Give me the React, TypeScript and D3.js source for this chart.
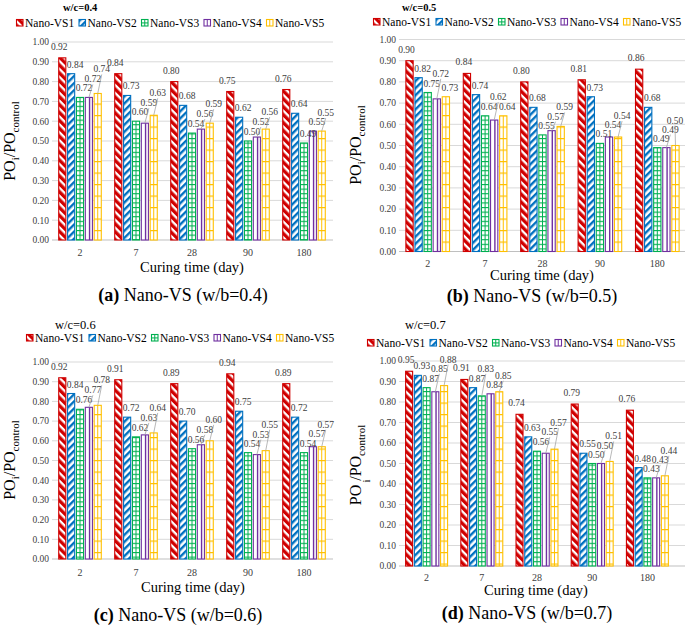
import React from 'react';
import * as d3 from 'd3';

const categories = ['2', '7', '28', '90', '180'];
const seriesNames = ['Nano-VS1', 'Nano-VS2', 'Nano-VS3', 'Nano-VS4', 'Nano-VS5'];
const yTicks = [0, 0.1, 0.2, 0.3, 0.4, 0.5, 0.6, 0.7, 0.8, 0.9, 1.0];

// rows: series (Nano-VS1..VS5), columns: curing time (2, 7, 28, 90, 180 days)
const wc04 = [
  [0.92, 0.84, 0.80, 0.75, 0.76],
  [0.84, 0.73, 0.68, 0.62, 0.64],
  [0.72, 0.60, 0.54, 0.50, 0.49],
  [0.72, 0.59, 0.56, 0.52, 0.55],
  [0.74, 0.63, 0.59, 0.56, 0.55],
];
const wc05 = [
  [0.90, 0.84, 0.80, 0.81, 0.86],
  [0.82, 0.74, 0.68, 0.73, 0.68],
  [0.75, 0.64, 0.55, 0.51, 0.49],
  [0.72, 0.62, 0.57, 0.54, 0.49],
  [0.73, 0.64, 0.59, 0.54, 0.50],
];
const wc06 = [
  [0.92, 0.91, 0.89, 0.94, 0.89],
  [0.84, 0.72, 0.70, 0.75, 0.72],
  [0.76, 0.62, 0.56, 0.54, 0.54],
  [0.77, 0.63, 0.58, 0.53, 0.57],
  [0.78, 0.64, 0.60, 0.55, 0.57],
];
const wc07 = [
  [0.95, 0.91, 0.74, 0.79, 0.76],
  [0.93, 0.87, 0.63, 0.55, 0.48],
  [0.87, 0.83, 0.56, 0.50, 0.43],
  [0.85, 0.84, 0.55, 0.50, 0.43],
  [0.88, 0.85, 0.57, 0.51, 0.44],
];

const colors = ['#d00000', '#0070c0', '#00b050', '#7030a0', '#ffc000'];
const FONT = 'Liberation Serif';
const TEXT = '#404040';

type Panel = {
  key: string; title: string; bold: boolean; tx: number; ty: number; tsize: number;
  lx: number; ly: number; x0: number; x1: number; gx1: number; yTop: number; yBot: number;
  ylx: number; yly: number; xtY: number; xtitleY: number; xtitleX: number;
  capX: number; capY: number; letter: string; wb: string; data: number[][]; splitI: boolean;
};

const panels: Panel[] = [
  { key: 'a', title: 'w/c=0.4', bold: true, tx: 63, ty: 11, tsize: 10.5, lx: 16, ly: 27,
    x0: 52, x1: 332, gx1: 333, yTop: 42, yBot: 240, ylx: 15, yly: 141, xtY: 255.5,
    xtitleY: 272, xtitleX: 192, capX: 183, capY: 301, letter: '(a)', wb: '0.4', data: wc04, splitI: false },
  { key: 'b', title: 'w/c=0.5', bold: true, tx: 402, ty: 11, tsize: 10.5, lx: 373, ly: 26,
    x0: 399, x1: 686, gx1: 686, yTop: 39.5, yBot: 251.5, ylx: 361, yly: 145, xtY: 266.5,
    xtitleY: 280, xtitleX: 542, capX: 532, capY: 302, letter: '(b)', wb: '0.5', data: wc05, splitI: false },
  { key: 'c', title: 'w/c=0.6', bold: false, tx: 55, ty: 329, tsize: 12.5, lx: 26, ly: 342,
    x0: 52, x1: 332, gx1: 333, yTop: 362, yBot: 559, ylx: 15, yly: 460, xtY: 575.5,
    xtitleY: 592, xtitleX: 193, capX: 178, capY: 621, letter: '(c)', wb: '0.6', data: wc06, splitI: false },
  { key: 'd', title: 'w/c=0.7', bold: false, tx: 405, ty: 329, tsize: 12.5, lx: 367, ly: 347,
    x0: 399, x1: 675, gx1: 685, yTop: 361, yBot: 566, ylx: 361, yly: 465, xtY: 580.5,
    xtitleY: 595, xtitleX: 536, capX: 527, capY: 619, letter: '(d)', wb: '0.7', data: wc07, splitI: true },
];

function Patterns() {
  return (
    <defs>
      <pattern id="pat0" width={5.6} height={5.6} patternUnits="userSpaceOnUse" patternTransform="rotate(-45)">
        <rect width={5.6} height={5.6} fill="#fff" />
        <rect width={3.3} height={5.6} fill={colors[0]} />
      </pattern>
      <pattern id="pat1" width={5} height={5} patternUnits="userSpaceOnUse" patternTransform="rotate(45)">
        <rect width={5} height={5} fill="#fff" />
        <rect width={2.4} height={5} fill={colors[1]} />
      </pattern>
      <pattern id="pat2" width={4} height={4.6} patternUnits="userSpaceOnUse">
        <rect width={4} height={4.6} fill="#fff" />
        <rect width={4} height={1.1} fill={colors[2]} />
      </pattern>
      <pattern id="pat3" width={4} height={4} patternUnits="userSpaceOnUse">
        <rect width={4} height={4} fill="#fff" />
      </pattern>
      <pattern id="pat4" width={4} height={11.5} patternUnits="userSpaceOnUse">
        <rect width={4} height={11.5} fill="#fff" />
        <rect width={4} height={1.2} fill={colors[4]} />
      </pattern>
    </defs>
  );
}

function ChartPanel({ p }: { p: Panel }) {
  const x = d3.scaleBand<string>().domain(categories).range([p.x0, p.x1]).paddingInner(0.24).paddingOuter(0.12);
  const inner = d3.scaleBand<number>().domain(d3.range(seriesNames.length)).range([0, x.bandwidth()]).paddingInner(0.2);
  const y = d3.scaleLinear().domain([0, 1]).range([p.yBot, p.yTop]);
  const fmt = d3.format('.2f');

  // label placement (greedy, upward)
  const labels: { cx: number; base: number; bx: number; top: number; v: number; key: string }[] = [];
  categories.forEach((c, ci) => {
    const placed: { cx: number; base: number }[] = [];
    seriesNames.forEach((_, si) => {
      const v = p.data[si][ci];
      const bx = (x(c) as number) + (inner(si) as number) + inner.bandwidth() / 2;
      const top = y(v);
      const cx = Math.min(bx + (si === 0 ? -3 : 4), 675);
      let base = top - (si === 0 ? 8 : 6);
      const h = 9;
      const hit = (b: number) => placed.some(q => Math.abs(q.cx - cx) < 15 && Math.abs(q.base - b) < h);
      while (hit(base)) base -= 1;
      placed.push({ cx, base });
      labels.push({ cx, base, bx, top, v, key: `${c}-${si}` });
    });
  });

  const legendStep = 62.5;

  return (
    <g>
      <text x={p.tx} y={p.ty} fontSize={p.tsize} fontWeight={p.bold ? 'bold' : 'normal'} fill="#000" fontFamily={FONT}>{p.title}</text>
      {seriesNames.map((s, i) => (
        <g key={s} transform={`translate(${p.lx + i * legendStep},${p.ly})`}>
          <rect x={0.5} y={-7.5} width={6.5} height={6.5} fill={`url(#pat${i})`} stroke={colors[i]} strokeWidth={1.1} />
          {(i === 2 || i === 4 || i === 3) && <line x1={3.75} x2={3.75} y1={-7.5} y2={-1} stroke={colors[i]} strokeWidth={1} />}
          <text x={9} y={0} fontSize={11.5} fill="#000" fontFamily={FONT}>{s}</text>
        </g>
      ))}
      {yTicks.map(t => (
        <g key={t}>
          <line x1={p.x0} x2={p.gx1} y1={y(t)} y2={y(t)} stroke={t === 0 ? '#bfbfbf' : '#d9d9d9'} strokeWidth={1} />
          <text x={p.x0 - 3} y={y(t) + 3.3} fontSize={9.5} textAnchor="end" fill={TEXT} fontFamily={FONT}>{fmt(t)}</text>
        </g>
      ))}
      {categories.map((c, ci) => (
        <g key={c}>
          {seriesNames.map((_, si) => {
            const v = p.data[si][ci];
            const bx = (x(c) as number) + (inner(si) as number);
            const bw = inner.bandwidth();
            const top = y(v);
            return (
              <g key={si}>
                <rect x={bx} y={top} width={bw} height={y(0) - top} fill={`url(#pat${si})`} stroke={colors[si]} strokeWidth={1.1} />
                {(si === 2 || si === 4) && <line x1={bx + bw / 2} x2={bx + bw / 2} y1={top} y2={y(0)} stroke={colors[si]} strokeWidth={1} />}
                {si === 3 && <line x1={bx + bw / 2 + 0.7} x2={bx + bw / 2 + 0.7} y1={top} y2={y(0)} stroke={colors[si]} strokeWidth={1.4} />}
              </g>
            );
          })}
          <text x={(x(c) as number) + x.bandwidth() / 2} y={p.xtY} fontSize={10} textAnchor="middle" fill={TEXT} fontFamily={FONT}>{c}</text>
        </g>
      ))}
      {labels.map(l => (
        <g key={l.key}>
          {l.top - l.base > 10 && (
            <line x1={l.cx} y1={l.base + 2} x2={l.bx} y2={l.top} stroke="#a6a6a6" strokeWidth={0.8} />
          )}
          <text x={l.cx} y={l.base} fontSize={9.5} textAnchor="middle" fill={TEXT} fontFamily={FONT}>{fmt(l.v)}</text>
        </g>
      ))}
      <text x={p.xtitleX} y={p.xtitleY} fontSize={14.5} textAnchor="middle" fill="#000" fontFamily={FONT}>Curing time (day)</text>
      <text x={p.capX} y={p.capY} fontSize={18} textAnchor="middle" fill="#000" fontFamily={FONT}>
        <tspan fontWeight="bold">{p.letter}</tspan>
        <tspan>{` Nano-VS (w/b=${p.wb})`}</tspan>
      </text>
      {p.splitI ? (
        <g>
          <text transform={`translate(${p.ylx},${p.yly}) rotate(-90)`} fontSize={16} textAnchor="middle" fill="#000" fontFamily={FONT}>
            <tspan>{'PO\u00a0/PO'}</tspan>
            <tspan fontSize={11} dy={4}>control</tspan>
          </text>
          <text transform={`translate(${p.ylx + 9},${p.yly + 16}) rotate(-90)`} fontSize={11} textAnchor="middle" fill="#000" fontFamily={FONT}>i</text>
        </g>
      ) : (
        <text transform={`translate(${p.ylx},${p.yly}) rotate(-90)`} fontSize={16} textAnchor="middle" fill="#000" fontFamily={FONT}>
          <tspan>PO</tspan>
          <tspan fontSize={11} dy={4}>i</tspan>
          <tspan dy={-4}>/PO</tspan>
          <tspan fontSize={11} dy={4}>control</tspan>
        </text>
      )}
    </g>
  );
}

export default function App() {
  return (
    <svg width={685} height={626} style={{ position: 'absolute', left: 0, top: 0, background: '#fff' }}>
      <Patterns />
      <rect width={685} height={626} fill="#fff" />
      {panels.map(p => <ChartPanel key={p.key} p={p} />)}
    </svg>
  );
}
